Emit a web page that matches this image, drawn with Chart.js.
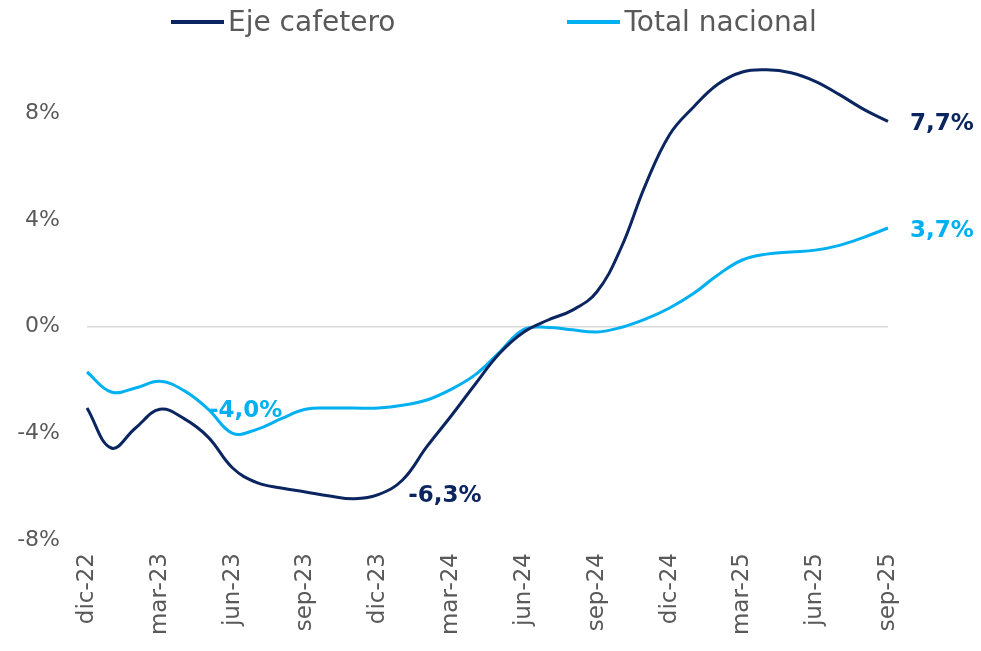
<!DOCTYPE html>
<html>
<head>
<meta charset="utf-8">
<script src="https://cdn.jsdelivr.net/npm/chart.js@4.4.0/dist/chart.umd.min.js"></script>
<style>
    html, body { margin: 0; padding: 0; background: #fff; }
    #wrap { position: relative; width: 981px; height: 651px; }
    #legend {
        position: absolute; top: 5px; left: 171px;
        display: flex; gap: 172px;
        font-family: "DejaVu Sans", sans-serif; font-size: 28px; color: #595959;
    }
    .item { display: flex; align-items: center; }
    .swatch { width: 53px; height: 4px; margin-right: 4px; }
</style>
</head>
<body>
<div id="wrap">
    <div id="legend"></div>
    <canvas id="chart" width="981" height="651"></canvas>
</div>
<script>
// meses (eje x)
const months = ['dic-22','ene-23','feb-23','mar-23','abr-23','may-23','jun-23','jul-23','ago-23','sep-23','oct-23','nov-23',
                'dic-23','ene-24','feb-24','mar-24','abr-24','may-24','jun-24','jul-24','ago-24','sep-24','oct-24','nov-24',
                'dic-24','ene-25','feb-25','mar-25','abr-25','may-25','jun-25','jul-25','ago-25','sep-25'];

// variación anual (%)
const ejeCafetero = [-3.05,-4.55,-3.8,-3.1,-3.45,-4.15,-5.3,-5.85,-6.05,-6.2,-6.35,-6.45,
                     -6.3,-5.75,-4.5,-3.35,-2.15,-1.0,-0.2,0.25,0.62,1.3,2.95,5.3,
                     7.2,8.25,9.1,9.55,9.63,9.52,9.2,8.7,8.15,7.7];
const totalNacional = [-1.7,-2.45,-2.3,-2.05,-2.4,-3.1,-4.0,-3.85,-3.45,-3.1,-3.05,-3.05,
                       -3.05,-2.95,-2.75,-2.35,-1.8,-0.95,-0.1,-0.03,-0.12,-0.2,-0.03,0.28,
                       0.7,1.25,1.95,2.5,2.72,2.8,2.87,3.05,3.35,3.7];

const yTicks = [-8, -4, 0, 4, 8];

const seriesNames = ['Eje cafetero', 'Total nacional'];
const seriesColors = ['#0B2560', '#00B0F0'];

// etiquetas de valor: serie, punto
const labelMarks = [
    { ds: 1, idx: 6, pos: 'above', dx: 13, dy: -22 },
    { ds: 0, idx: 12, pos: 'right', dx: 30, dy: 1 },
    { ds: 0, idx: 33, pos: 'right', dx: 22, dy: 3 },
    { ds: 1, idx: 33, pos: 'right', dx: 22, dy: 3 }
];

// leyenda
const legendEl = document.getElementById('legend');
seriesNames.forEach((name, i) => {
    const item = document.createElement('div');
    item.className = 'item';
    item.innerHTML = `<span class="swatch" style="background:${seriesColors[i]}"></span><span>${name}</span>`;
    legendEl.appendChild(item);
});

const valueLabels = {
    id: 'valueLabels',
    afterDatasetsDraw(chart) {
        const ctx = chart.ctx;
        ctx.save();
        ctx.font = 'bold 23px "DejaVu Sans"';
        ctx.textBaseline = 'middle';
        labelMarks.forEach(m => {
            const pt = chart.getDatasetMeta(m.ds).data[m.idx];
            const v = chart.data.datasets[m.ds].data[m.idx];
            const txt = v.toFixed(1).replace('.', ',') + '%';
            ctx.fillStyle = seriesColors[m.ds];
            ctx.textAlign = m.pos === 'right' ? 'left' : 'center';
            ctx.fillText(txt, pt.x + m.dx, pt.y + m.dy);
        });
        ctx.restore();
    }
};

const ctx = document.getElementById('chart').getContext('2d');
new Chart(ctx, {
    type: 'line',
    data: {
        labels: months,
        datasets: [
            {
                label: seriesNames[0],
                data: ejeCafetero,
                borderColor: seriesColors[0],
                backgroundColor: seriesColors[0],
                borderWidth: 3,
                pointRadius: 0,
                tension: 0.4
            },
            {
                label: seriesNames[1],
                data: totalNacional,
                borderColor: seriesColors[1],
                backgroundColor: seriesColors[1],
                borderWidth: 3,
                pointRadius: 0,
                tension: 0.4
            }
        ]
    },
    options: {
        responsive: false,
        animation: false,
        layout: { padding: { top: 60, right: 93, left: 0, bottom: 0 } },
        plugins: {
            legend: { display: false },
            tooltip: { enabled: false }
        },
        scales: {
            x: {
                grid: { display: false },
                border: { display: false },
                ticks: {
                    autoSkip: false,
                    minRotation: 90,
                    maxRotation: 90,
                    padding: 5,
                    color: '#595959',
                    font: { family: 'DejaVu Sans', size: 23 },
                    callback: function(val, i) { return i % 3 === 0 ? months[i] : ''; }
                },
                afterFit: function(scale) { scale.height = 111; }
            },
            y: {
                min: -8,
                max: 10,
                afterBuildTicks: function(axis) { axis.ticks = yTicks.map(v => ({ value: v })); },
                grid: {
                    drawTicks: false,
                    color: c => c.tick && c.tick.value === 0 ? '#D9D9D9' : 'rgba(0,0,0,0)',
                    lineWidth: 1.5
                },
                border: { display: false },
                ticks: {
                    padding: 27,
                    color: '#595959',
                    font: { family: 'DejaVu Sans', size: 22 },
                    callback: v => v + '%'
                },
                afterFit: function(scale) { scale.width = 87; }
            }
        }
    },
    plugins: [valueLabels]
});
</script>
</body>
</html>
